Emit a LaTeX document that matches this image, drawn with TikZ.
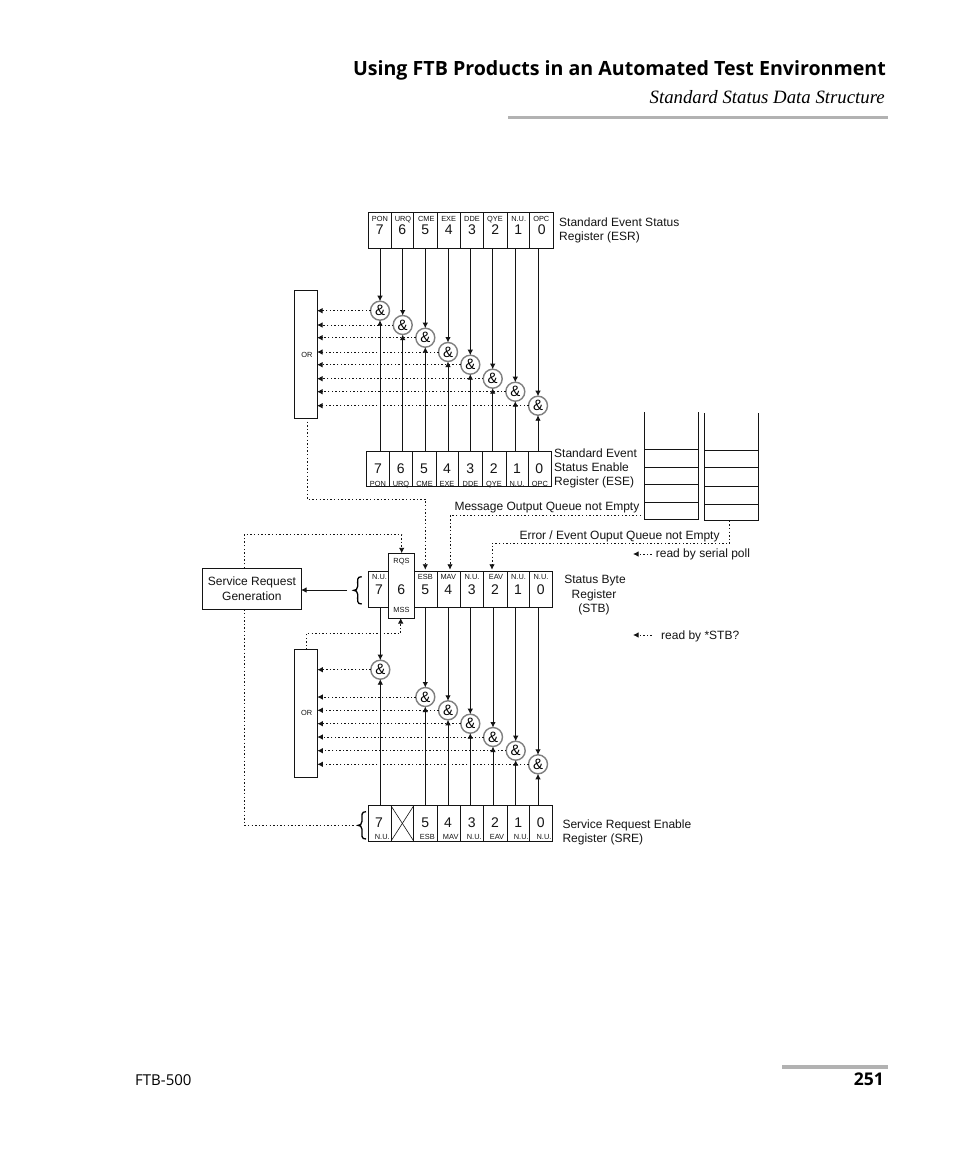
\documentclass[tikz,border=0pt]{standalone}
\usepackage{fontspec}
\setmainfont{Liberation Sans}
\newfontfamily\headfont{Open Sans}
\newfontfamily\pageserif{Liberation Serif}
\usetikzlibrary{arrows.meta}
\definecolor{inkc}{RGB}{20,20,20}
\definecolor{rulec}{RGB}{178,178,178}
\tikzset{
  cellbox/.style={draw=inkc,line width=0.9pt,fill=white,inner sep=0pt,outer sep=0pt},
  gatec/.style={circle,draw=black!50,line width=1.4pt,fill=white,minimum size=19pt,inner sep=0pt,outer sep=0pt,font=\fontsize{15}{15}\selectfont},
  wire/.style={draw=inkc,line width=0.9pt,-{Latex[length=5.5pt,width=5.5pt]}},
  dots/.style={draw=inkc,line width=0.9pt,dash pattern=on 1.4pt off 2.2pt},
  dotsa/.style={dots,-{Latex[length=5.5pt,width=5.5pt,sep=0pt]}},
  dig/.style={inner sep=0pt,text=inkc,font=\fontsize{14}{14}\selectfont},
  tiny/.style={inner sep=0pt,text=inkc,font=\fontsize{7.4}{7.4}\selectfont,text height=5.4pt,text depth=0pt},
  lab/.style={inner sep=0pt,text=inkc,font=\fontsize{12}{12}\selectfont,text height=9.5pt,text depth=0.5pt},
  labc/.style={lab,anchor=center,align=center},
  labw/.style={lab,anchor=west},
}
\newcommand{\mybrace}[3]{% x-right, y-top, y-bottom
  \draw[black,line width=1.3pt] (#1,#2) .. controls ({#1-5},#2) and ({#1-4},{#2+3}) .. ({#1-4},{(#2+#3)/2-4})
     .. controls ({#1-4},{(#2+#3)/2-1}) and ({#1-6},{(#2+#3)/2}) .. ({#1-8},{(#2+#3)/2})
     .. controls ({#1-6},{(#2+#3)/2}) and ({#1-4},{(#2+#3)/2+1}) .. ({#1-4},{(#2+#3)/2+4})
     .. controls ({#1-4},{#3-3}) and ({#1-5},#3) .. (#1,#3);}
\begin{document}
\begin{tikzpicture}[x=1pt,y=-1pt]
\useasboundingbox[fill=white] (0,0) rectangle (954,1159);
% page furniture
\node[anchor=base east,inner sep=0pt,font=\headfont\bfseries\fontsize{19.6}{19.6}\selectfont] (headA) at (886,75.5) {Using FTB Products in an Automated Test Environment};
\node[anchor=base east,inner sep=0pt,font=\pageserif\itshape\fontsize{18.8}{18.8}\selectfont] (headB) at (885,103.5) {Standard Status Data Structure};
\fill[rulec] (508,115.5) rectangle (888,119);
\fill[rulec] (782,1065) rectangle (888,1069);
\node[anchor=base west,inner sep=0pt,font=\headfont\fontsize{15}{15}\selectfont] (footA) at (135,1085) {FTB-500};
\node[anchor=base east,inner sep=0pt,font=\headfont\bfseries\fontsize{17.5}{17.5}\selectfont] (footB) at (884,1085) {251};
% ESR
\foreach \k/\a/\b/\nm/\d/\nx/\dx in {7/368.3/391/PON/7/380/379.7,6/391/413.3/URQ/6/403/402.3,5/413.3/437.3/CME/5/426.3/425.3,4/437.3/460.7/EXE/4/448.7/448.7,3/460.7/483.3/DDE/3/472/472,2/483.3/507/QYE/2/495/495.3,1/507/529.3/N.U./1/518.7/518.3,0/529.3/553/OPC/0/541.3/541.7}{
  \node[cellbox,minimum width={(\b-\a)*1pt},minimum height=35.3pt] (esr\k) at ({(\a+\b)/2},230.4) {};
  \node[tiny] (esrn\k) at (\nx,218.7) {\nm};
  \node[dig] (esrd\k) at (\dx,229.3) {\d};
}
\node[labw] (esrlabA) at (559,222) {Standard Event Status};
\node[labw] (esrlabB) at (559,236) {Register (ESR)};
% ESE
\foreach \k/\a/\b/\nm/\d/\nx/\dx in {7/366.3/389/PON/7/378/378,6/389/412.7/URQ/6/401/400.7,5/412.7/436.3/CME/5/424.5/424,4/436.3/458.7/EXE/4/447/447,3/458.7/482.3/DDE/3/470.5/470.3,2/482.3/506/QYE/2/494/493.7,1/506/528.7/N.U./1/517/517,0/528.7/551.3/OPC/0/540/539.3}{
  \node[cellbox,minimum width={(\b-\a)*1pt},minimum height=35.7pt] (ese\k) at ({(\a+\b)/2},468.9) {};
  \node[tiny] (esen\k) at (\nx,483.3) {\nm};
  \node[dig] (esed\k) at (\dx,469) {\d};
}
\node[labw] (eselabA) at (554,453) {Standard Event};
\node[labw] (eselabB) at (554,467) {Status Enable};
\node[labw] (eselabC) at (554,481) {Register (ESE)};
% OR 1
\node[cellbox,minimum width=23pt,minimum height=127.3pt] (orA) at (305.5,354.3) {};
\node[tiny] (orAt) at (307,354.7) {OR};
% gates 1
\foreach \k/\x/\y in {7/380/310.7,6/402.7/325,5/425.3/337.7,4/448/352,3/470.3/364.7,2/492.7/378.7,1/515.3/391.7,0/538/405.7}{
  \node[gatec] (g\k) at (\x,\y) {\&};
  \draw[wire] (g\k |- esr\k.south) -- (g\k.north);
  \draw[wire] (g\k |- ese\k.north) -- (g\k.south);
  \draw[dotsa] (g\k.west) -- (g\k.west -| orA.east);
}
% queues
\coordinate (qAtl) at (644.7,412);
\coordinate (qAbr) at (698.3,519.7);
\coordinate (qBtl) at (704.7,413);
\coordinate (qBbr) at (758.7,520.7);
\draw[draw=inkc,line width=0.9pt] (qAtl) |- (qAbr) -- (qAbr |- qAtl);
\draw[draw=inkc,line width=0.9pt] (qBtl) |- (qBbr) -- (qBbr |- qBtl);
\foreach \y in {449,467.3,484.7,502.7}{\draw[draw=inkc,line width=0.9pt] (644.7,\y) -- (698.3,\y);}
\foreach \y in {450,467.3,486,504}{\draw[draw=inkc,line width=0.9pt] (704.7,\y) -- (758.7,\y);}
\node[labw] (msgq) at (454.3,505.7) {Message Output Queue not Empty};
\node[labw] (errq) at (519.3,534.7) {Error / Event Ouput Queue not Empty};
% STB
\foreach \k/\a/\b/\nm/\d/\nx/\dx in {7/368.3/388.7/N.U./7/379.5/379,5/414/437/ESB/5/425.3/425.3,4/437/460/MAV/4/448.3/448.3,3/460/483.7/N.U./3/472/471.7,2/483.7/507.3/EAV/2/496/495,1/507.3/529.7/N.U./1/518.5/518,0/529.7/552.3/N.U./0/541/540.7}{
  \node[cellbox,minimum width={(\b-\a)*1pt},minimum height=35.3pt] (stb\k) at ({(\a+\b)/2},589.4) {};
  \node[tiny] (stbn\k) at (\nx,577) {\nm};
  \node[dig] (stbd\k) at (\dx,589.3) {\d};
}
\node[cellbox,minimum width=25.3pt,minimum height=64.7pt] (stb6) at (401.35,585.65) {};
\node[tiny] (stbrqs) at (401.5,561) {RQS};
\node[tiny] (stbmss) at (401.5,609.3) {MSS};
\node[dig] (stbd6) at (401.3,589.3) {6};
\node[labc] (stbA) at (595,579) {Status Byte};
\node[labc] (stbB) at (594,593.7) {Register};
\node[labc] (stbC) at (594,608) {(STB)};
\coordinate (braceS) at (347,590);
\mybrace{361.7}{576.7}{604}
% service request
\node[cellbox,minimum width=98.3pt,minimum height=41.3pt,align=center,text=inkc,font=\fontsize{12}{15}\selectfont] (srv) at (251.85,588.65) {Service Request\\Generation};
\draw[wire] (braceS) -- (srv.east |- braceS);
% read by
\coordinate (rsA) at (651.7,554);
\coordinate (rsB) at (651.7,635);
\node[labw] (rs) at (655.7,553) {read by serial poll};
\node[labw] (rb) at (661,635) {read by *STB?};
\draw[dotsa] (rsA) -- (633,554);
\draw[dotsa] (rsB) -- (633,635);
% OR 2
\node[cellbox,minimum width=23pt,minimum height=127.3pt] (orB) at (305.8,713.4) {};
\node[tiny] (orBt) at (306.7,712.3) {OR};
% SRE
\foreach \k/\a/\b/\nm/\d/\nx/\dx in {7/368.3/391/N.U./7/382.3/379,5/413.7/437.3/ESB/5/427.3/425.3,4/437.3/460/MAV/4/450.7/448,3/460/483.7/N.U./3/474.3/471.7,2/483.7/507.7/EAV/2/497/495,1/507.7/529.7/N.U./1/521.3/518.3,0/529.7/552.7/N.U./0/544/540.7}{
  \node[cellbox,minimum width={(\b-\a)*1pt},minimum height=35.3pt] (sre\k) at ({(\a+\b)/2},823.4) {};
  \node[tiny] (sren\k) at (\nx,836.3) {\nm};
  \node[dig] (sred\k) at (\dx,822.3) {\d};
}
\node[cellbox,minimum width=22.7pt,minimum height=35.3pt] (sre6) at (402.35,823.4) {};
\draw[draw=inkc,line width=0.6pt] (sre6.north west) -- (sre6.south east);
\draw[draw=inkc,line width=0.6pt] (sre6.south west) -- (sre6.north east);
\node[labw] (sreA) at (562.3,823.7) {Service Request Enable};
\node[labw] (sreB) at (562.3,837.7) {Register (SRE)};
\mybrace{366}{811.7}{839}
\coordinate (braceT) at (355,825);
% gates 2
\foreach \k/\x/\y in {7/380.3/669.7,5/425.3/697,4/448/710.3,3/470.3/723.7,2/493/737,1/515.7/750.7,0/538/764.3}{
  \node[gatec] (h\k) at (\x,\y) {\&};
  \draw[wire] (h\k |- stb\k.south) -- (h\k.north);
  \draw[wire] (h\k |- sre\k.north) -- (h\k.south);
  \draw[dotsa] (h\k.west) -- (h\k.west -| orB.east);
}
% dotted routes
\coordinate (xA) at (425.3,499);
\draw[dotsa,shorten >=2pt] (307,418) -- (307,499) -- (xA) -- (xA |- stb5.north);
\coordinate (xB) at (450,515.7);
\draw[dotsa,shorten >=2pt] (641,515.7) -- (xB) -- (xB |- stb4.north);
\coordinate (xC) at (492,543.3);
\draw[dotsa,shorten >=2pt] (729.7,520.7) -- (729.7,543.3) -- (xC) -- (xC |- stb2.north);
\coordinate (xD) at (244,534.7);
\coordinate (xE) at (401.7,534.7);
\draw[dotsa] (xD |- srv.north) -- (xD) -- (xE) -- (xE |- stb6.north);
\draw[dots] (xD |- srv.south) -- (244,825) -- (braceT);
\coordinate (xF) at (306,633.7);
\coordinate (xG) at (400.7,633.7);
\draw[dotsa] (xF |- orB.north) -- (xF) -- (xG) -- (xG |- stb6.south);
\end{tikzpicture}
\end{document}
